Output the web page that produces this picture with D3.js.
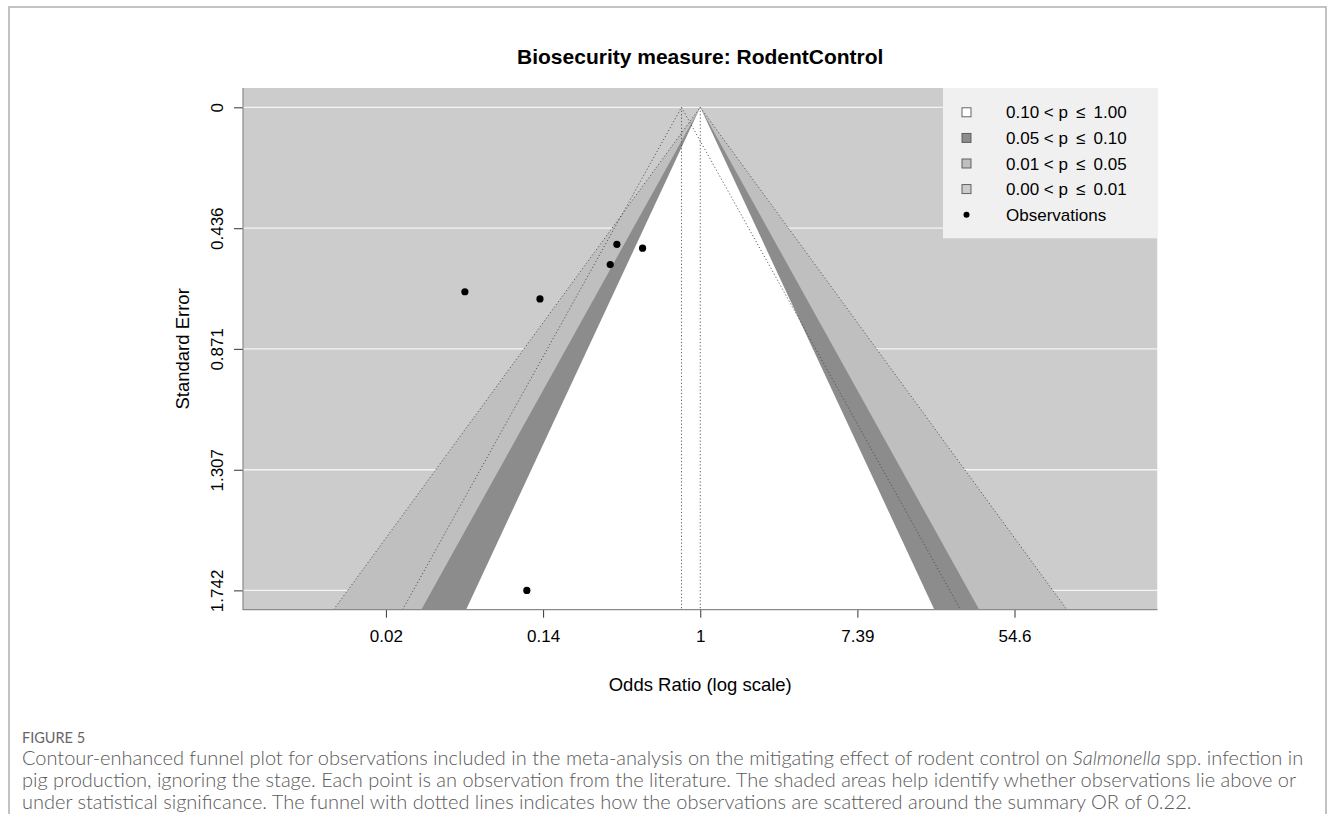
<!DOCTYPE html>
<html>
<head>
<meta charset="utf-8">
<script src="https://cdn.jsdelivr.net/npm/d3@7"></script>
<style>
  html, body { margin: 0; padding: 0; background: #ffffff; }
  svg { display: block; }
  .chart-text { font-family: "Liberation Sans", Arial, sans-serif; fill: #000; }
  .caption { font-family: Lato, "Open Sans", sans-serif; fill: #595959; font-weight: 300; }
</style>
</head>
<body>
<script>
// Observations: odds ratio and its standard error
const studyOR = [0.050, 0.130, 0.318, 0.346, 0.480, 0.110];
const studySE = [0.665, 0.691, 0.567, 0.494, 0.508, 1.742];

// Pooled estimate around which the dotted pseudo-confidence funnel is drawn
const pooledOR = 0.788;

// Axis ticks
const seTicks = [0, 0.436, 0.871, 1.307, 1.742];
const seTickLabels = ["0", "0.436", "0.871", "1.307", "1.742"];
const orTicks = [0.0183, 0.1353, 1, 7.389, 54.598];
const orTickLabels = ["0.02", "0.14", "1", "7.39", "54.6"];

// Significance contours (two-sided p-value cut-offs and their z multipliers)
const contourP = [0.01, 0.05, 0.10];
const contourZ = [2.576, 1.960, 1.645];
const contourFill = ["#bfbfbf", "#8c8c8c", "#ffffff"];
const backgroundFill = "#cccccc";

// Legend entries
const legendLabels = [
  "0.10 < p \u2009\u2264\u2009 1.00",
  "0.05 < p \u2009\u2264\u2009 0.10",
  "0.01 < p \u2009\u2264\u2009 0.05",
  "0.00 < p \u2009\u2264\u2009 0.01"
];
const legendFills = ["#ffffff", "#8c8c8c", "#bfbfbf", "#cccccc"];

const W = 1328, H = 814;
const plot = { left: 243, right: 1157.5, top: 88, bottom: 609.7 };

const svg = d3.select("body").append("svg")
  .attr("width", W).attr("height", H)
  .attr("viewBox", `0 0 ${W} ${H}`);

svg.append("rect").attr("width", W).attr("height", H).attr("fill", "#ffffff");

// Figure frame
svg.append("path")
  .attr("d", `M9,${H} V7 H1326 V${H}`)
  .attr("fill", "none").attr("stroke", "#b0b0b0").attr("stroke-width", 1.5);

const seMax = d3.max(studySE);
const xLim = 5.82;
const x = d3.scaleLog().domain([Math.exp(-xLim), Math.exp(xLim)]).range([plot.left, plot.right]);
const y = d3.scaleLinear().domain([-0.04 * seMax, 1.04 * seMax]).range([plot.top, plot.bottom]);
const seBottom = y.domain()[1];

svg.append("defs").append("clipPath").attr("id", "plot-clip")
  .append("rect")
  .attr("x", plot.left).attr("y", plot.top)
  .attr("width", plot.right - plot.left).attr("height", plot.bottom - plot.top);

const g = svg.append("g").attr("clip-path", "url(#plot-clip)");

// Background (p <= 0.01 region)
g.append("rect")
  .attr("x", plot.left).attr("y", plot.top)
  .attr("width", plot.right - plot.left).attr("height", plot.bottom - plot.top)
  .attr("fill", backgroundFill);

// Horizontal grid lines
g.selectAll("line.grid").data(seTicks).join("line")
  .attr("class", "grid")
  .attr("x1", plot.left).attr("x2", plot.right)
  .attr("y1", d => y(d)).attr("y2", d => y(d))
  .attr("stroke", "#f4f4f4").attr("stroke-width", 1.3);

// Contour triangles, widest first
const line = d3.line().x(d => x(d[0])).y(d => y(d[1]));
g.selectAll("path.contour").data(contourZ).join("path")
  .attr("class", "contour")
  .attr("d", z => line([
    [Math.exp(-z * seBottom), seBottom],
    [1, 0],
    [Math.exp(z * seBottom), seBottom]
  ]) + "Z")
  .attr("fill", (z, i) => contourFill[i]);

// Dotted reference funnels
const dotted = g.append("g")
  .attr("fill", "none").attr("stroke", "#4d4d4d")
  .attr("stroke-width", 0.9).attr("stroke-dasharray", "1.2 2.2");

function funnel(center, z) {
  const lc = Math.log(center);
  dotted.append("path").attr("d", line([[center, 0], [center, seBottom]]));
  dotted.append("path").attr("d", line([
    [Math.exp(lc - z * seBottom), seBottom],
    [center, 0],
    [Math.exp(lc + z * seBottom), seBottom]
  ]));
}
funnel(1, contourZ[0]);
funnel(pooledOR, 1.96);

// Observations
g.selectAll("circle.obs").data(studyOR.map((d, i) => [d, studySE[i]])).join("circle")
  .attr("class", "obs")
  .attr("cx", d => x(d[0])).attr("cy", d => y(d[1]))
  .attr("r", 3.6).attr("fill", "#000");

// Axes
const yAxis = svg.append("g")
  .attr("transform", `translate(${plot.left},0)`)
  .call(d3.axisLeft(y).tickValues(seTicks)
    .tickFormat((d, i) => seTickLabels[i]).tickSize(9));
yAxis.select(".domain").remove();
yAxis.selectAll(".tick line").attr("stroke", "#333");
yAxis.selectAll(".tick text")
  .attr("x", 0).attr("y", -20).attr("dy", 0)
  .attr("transform", "rotate(-90)")
  .attr("text-anchor", "middle")
  .style("font-size", "17px")
  .style("font-family", "'Liberation Sans', Arial, sans-serif")
  .attr("fill", "#000");

const xAxis = svg.append("g")
  .attr("transform", `translate(0,${plot.bottom})`)
  .call(d3.axisBottom(x).tickValues(orTicks)
    .tickFormat((d, i) => orTickLabels[i]).tickSize(8));
xAxis.select(".domain").remove();
xAxis.selectAll(".tick line").attr("stroke", "#333");
xAxis.selectAll(".tick text")
  .attr("y", 32.5).attr("dy", 0)
  .style("font-size", "17px")
  .style("font-family", "'Liberation Sans', Arial, sans-serif")
  .attr("fill", "#000");

// L-shaped plot box
svg.append("path")
  .attr("d", `M${plot.left},${plot.top} V${plot.bottom} H${plot.right}`)
  .attr("fill", "none").attr("stroke", "#8a8a8a").attr("stroke-width", 1.2);

// Legend
const lg = svg.append("g");
lg.append("rect")
  .attr("x", 943).attr("y", plot.top)
  .attr("width", plot.right - 943).attr("height", 238.3 - plot.top)
  .attr("fill", "#f0f0f0");
const rowY = d3.range(5).map(i => 112.3 + i * 25.6);
legendLabels.forEach((lab, i) => {
  lg.append("rect")
    .attr("x", 966.5 - 4.5).attr("y", rowY[i] - 4.5)
    .attr("width", 9).attr("height", 9)
    .attr("fill", legendFills[i]).attr("stroke", "#555").attr("stroke-width", 0.9);
  lg.append("text").attr("class", "chart-text")
    .attr("x", 1006).attr("y", rowY[i] + 6)
    .style("font-size", "17px").style("white-space", "pre")
    .text(lab);
});
lg.append("circle").attr("cx", 966.5).attr("cy", rowY[4]).attr("r", 3).attr("fill", "#000");
lg.append("text").attr("class", "chart-text")
  .attr("x", 1006).attr("y", rowY[4] + 6)
  .style("font-size", "17px")
  .text("Observations");

// Titles
svg.append("text").attr("class", "chart-text")
  .attr("x", (plot.left + plot.right) / 2).attr("y", 64)
  .attr("text-anchor", "middle")
  .style("font-size", "21px").style("font-weight", "bold")
  .text("Biosecurity measure: RodentControl");

svg.append("text").attr("class", "chart-text")
  .attr("x", (plot.left + plot.right) / 2).attr("y", 691)
  .attr("text-anchor", "middle")
  .style("font-size", "18.5px")
  .text("Odds Ratio (log scale)");

svg.append("text").attr("class", "chart-text")
  .attr("transform", `translate(189,${(plot.top + plot.bottom) / 2}) rotate(-90)`)
  .attr("text-anchor", "middle")
  .style("font-size", "18.5px")
  .text("Standard Error");

// Caption
svg.append("text").attr("class", "caption")
  .attr("x", 22).attr("y", 743)
  .style("font-size", "14.5px").style("fill", "#666666").style("font-weight", 400)
  .text("FIGURE 5");

const capLines = [];
const cap1 = svg.append("text").attr("class", "caption").attr("x", 22).attr("y", 765);
cap1.append("tspan").text("Contour-enhanced funnel plot for observations included in the meta-analysis on the mitigating effect of rodent control on ");
cap1.append("tspan").style("font-style", "italic").text("Salmonella");
cap1.append("tspan").text(" spp. infection in");
capLines.push(cap1);
capLines.push(svg.append("text").attr("class", "caption").attr("x", 22).attr("y", 787)
  .text("pig production, ignoring the stage. Each point is an observation from the literature. The shaded areas help identify whether observations lie above or"));
capLines.push(svg.append("text").attr("class", "caption").attr("x", 22).attr("y", 809)
  .text("under statistical significance. The funnel with dotted lines indicates how the observations are scattered around the summary OR of 0.22."));

// Size the caption so its first line spans the text column
capLines.forEach(t => t.style("font-size", "17px"));
const w1 = cap1.node().getComputedTextLength();
const capSize = Math.min(20, 17 * 1284 / w1);
capLines.forEach(t => t.style("font-size", capSize + "px"));
</script>
</body>
</html>
